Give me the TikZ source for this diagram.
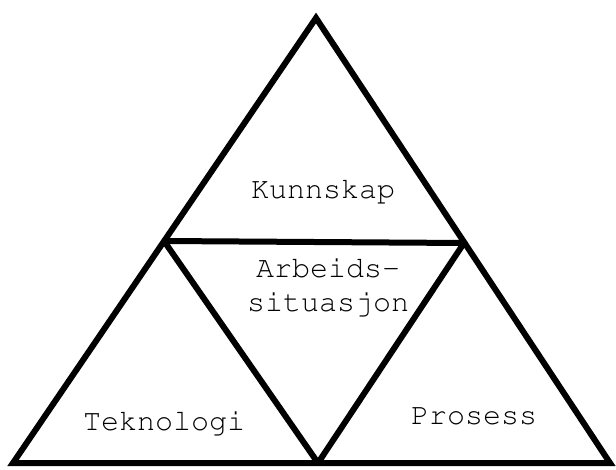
\documentclass[tikz,border=0pt]{standalone}
\usepackage[T1]{fontenc}
\usepackage{courier}
\usepackage{tikz}
\usetikzlibrary{positioning}

\begin{document}
\begin{tikzpicture}[
        x=1pt, y=-1pt,
        every node/.style={align=center},
        edge/.style={line width=6pt, black},
        label/.style={font=\fontsize{30}{34}\selectfont\ttfamily, anchor=base, inner sep=0pt}
    ]
        \useasboundingbox (0,0) rectangle (616,470);

        % Corners of the big triangle
        \coordinate (top) at (316,18);
        \coordinate (bl) at (13,463);
        \coordinate (br) at (610,463);

        % Midpoints of its sides
        \coordinate (ml) at (164,241);
        \coordinate (mr) at (464,243);
        \coordinate (mb) at (318,463);

        % Outline
        \draw[edge] (top) -- (bl) -- (br) -- cycle;

        % Inner triangle
        \draw[edge] (ml) -- (mr);
        \draw[edge] (ml) -- (mb);
        \draw[edge] (mr) -- (mb);

        % Labels of the four parts (base of a two-line node is its last line)
        \node[label] (kunn) at (323,199) {Kunnskap};
        \node[label] (arb) at (328,312) {Arbeids-\\situasjon};
        \node[label] (tek) at (164,430) {Teknologi};
        \node[label] (pros) at (474,424) {Prosess};
    \end{tikzpicture}
\end{document}
